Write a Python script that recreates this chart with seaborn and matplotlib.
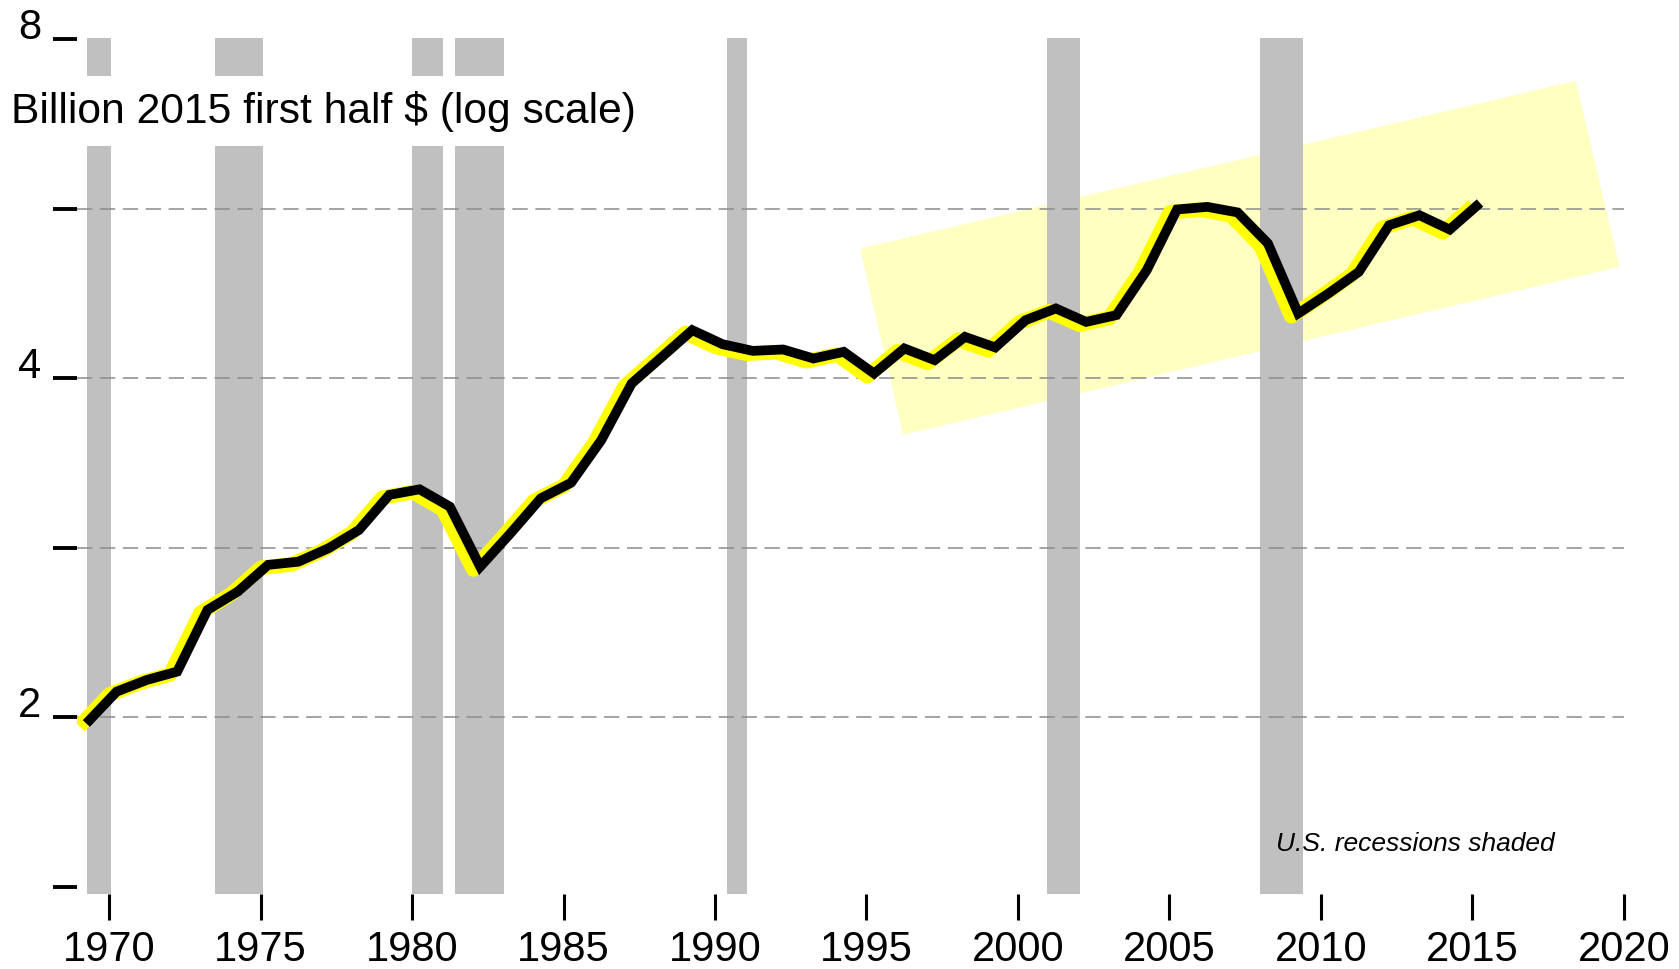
import numpy as np
import pandas as pd
import matplotlib
matplotlib.use('Agg')
import matplotlib.pyplot as plt
import matplotlib.transforms as mtransforms
import seaborn as sns

# values (billion 2015 first-half dollars)
years = list(range(1969, 2016))
values = [1.975, 2.108, 2.159, 2.196, 2.491, 2.586, 2.731, 2.749, 2.826, 2.933,
          3.151, 3.187, 3.076, 2.721, 2.913, 3.129, 3.230, 3.525, 3.957, 4.178,
          4.412, 4.287, 4.229, 4.241, 4.164, 4.221, 4.038, 4.250, 4.150, 4.352,
          4.259, 4.503, 4.612, 4.487, 4.550, 4.987, 5.646, 5.676, 5.612, 5.267,
          4.565, 4.756, 4.970, 5.467, 5.580, 5.419, 5.721]

# US recessions (start, end) as drawn
rec_start = [1969.28, 1973.50, 1980.00, 1981.42, 1990.41, 2000.97, 2008.00]
rec_end = [1970.05, 1975.07, 1981.03, 1983.05, 1991.05, 2002.04, 2009.40]

# highlighted band (corners)
band_x = [1994.79, 2018.41, 2019.85, 1996.21]
band_y = [5.212, 7.343, 5.022, 3.563]

ytick_vals = [2 ** 0.5, 2, 2 ** 1.5, 4, 2 ** 2.5, 8]
ytick_labels = ['', '2', '', '4', '', '8']
grid_levels = [2, 2 ** 1.5, 4, 2 ** 2.5]
xtick_vals = list(range(1970, 2021, 5))

df = pd.DataFrame({'year': np.array(years) + 0.25, 'value': values})

sns.set_style('white')
plt.rcParams['font.family'] = ['Liberation Sans', 'DejaVu Sans']
plt.rcParams['text.color'] = 'black'
plt.rcParams['xtick.color'] = 'black'
plt.rcParams['ytick.color'] = 'black'

fig = plt.figure(figsize=(16.79, 9.69), dpi=100)
ax = fig.add_axes([0.046, 0.0774, 0.9212, 0.8837])
ax.set_yscale('log')
ax.set_xlim(1968.95, 2020.0)
ax.set_ylim(1.394, 8.02)

ax.fill(band_x, band_y, color='#ffffc2', lw=0, zorder=0.5)
for s, e in zip(rec_start, rec_end):
    ax.axvspan(s, e, color='#c0c0c0', lw=0, zorder=1)
for lv in grid_levels:
    ax.axhline(lv, color='#8c8c8c', lw=1.1, ls=(0, (10, 5)), zorder=2)

shadow = mtransforms.offset_copy(ax.transData, fig=fig, x=-5, y=-2, units='points')
sns.lineplot(data=df, x='year', y='value', ax=ax, color='#ffff00', lw=10.5,
             solid_joinstyle='round', solid_capstyle='butt', transform=shadow, zorder=3)
sns.lineplot(data=df, x='year', y='value', ax=ax, color='black', lw=7,
             solid_joinstyle='miter', solid_capstyle='butt', zorder=4)

for sp in ax.spines.values():
    sp.set_visible(False)

ax.yaxis.set_minor_locator(matplotlib.ticker.NullLocator())
ax.set_yticks(ytick_vals)
ax.set_yticklabels(ytick_labels)
ax.set_xticks(xtick_vals)
ax.set_xticklabels([str(v) for v in xtick_vals])
ax.tick_params(axis='y', which='major', left=True, direction='out', length=17, width=2.8,
               pad=9, labelsize=30, colors='black')
ax.tick_params(axis='x', which='major', bottom=True, direction='out', length=19, width=2.2,
               pad=7, labelsize=30, colors='black')
for t in ax.yaxis.get_major_ticks():
    t.label1.set_verticalalignment('baseline')
ax.set_xlabel('')
ax.set_ylabel('')

fig.text(0.0064, 0.8854, 'Billion 2015 first half $ (log scale)', fontsize=30.7,
         ha='left', va='center', zorder=5, color='black',
         bbox=dict(facecolor='white', edgecolor='none', boxstyle='square,pad=0.33'))
ax.text(0.865, 0.0586, 'U.S. recessions shaded', transform=ax.transAxes, fontsize=19,
        style='italic', ha='center', va='center', color='black')

fig.savefig('out.png', dpi=100)
